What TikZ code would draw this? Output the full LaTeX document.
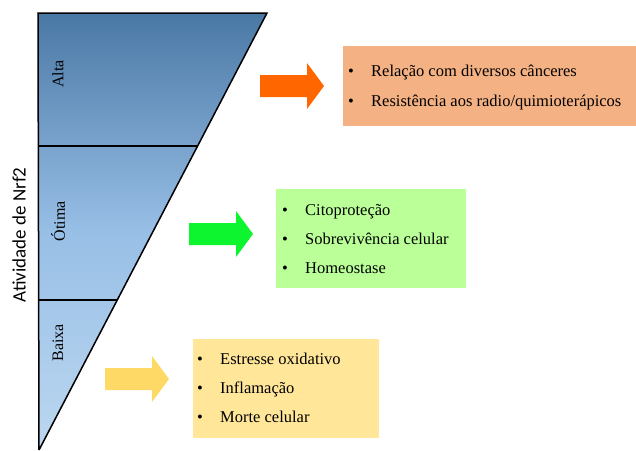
\documentclass[tikz,border=0pt]{standalone}
\usepackage{fontspec}
\setmainfont{Liberation Serif}
\newfontfamily\axisfont{Carlito}
\usetikzlibrary{positioning}

\definecolor{topblue}{HTML}{4A78A5}
\definecolor{midblue}{HTML}{98BFE6}
\definecolor{lowblue}{HTML}{BCD7F0}
\definecolor{arrorange}{HTML}{FF6600}
\definecolor{arrgreen}{HTML}{0CF52E}
\definecolor{arryellow}{HTML}{FFD966}
\definecolor{boxorange}{HTML}{F4B183}
\definecolor{boxgreen}{HTML}{BAFF98}
\definecolor{boxyellow}{HTML}{FFE699}

\tikzset{
  bigarrow/.pic={
    \fill (0,-11) -- (47,-11) -- (47,-23) -- (64,0) -- (47,23) -- (47,11) -- (0,11) -- cycle;
  },
  listbox/.style={draw=none, anchor=north west, inner sep=0pt},
  item/.style={anchor=west, inner sep=0pt, text height=11pt, text depth=3.5pt,
    font=\fontsize{16.5}{19}\selectfont},
  level/.style={rotate=90, inner sep=0pt, font=\fontsize{16}{19}\selectfont},
}
\newcommand{\itm}[1]{\makebox[23pt][l]{\textbullet}#1}

\begin{document}
\begin{tikzpicture}[x=1pt, y=-1pt]
  \useasboundingbox (0,0) rectangle (636,450);

  % Nrf2 triangle
  \coordinate (tl) at (38,13);
  \coordinate (tr) at (267,13);
  \coordinate (bt) at (39,450);
  \shade[top color=topblue, bottom color=lowblue, middle color=midblue] (tl) -- (tr) -- (bt) -- cycle;
  \draw[line width=1.5pt, line join=miter] (bt) -- (tl) -- (tr) -- (bt);
  \coordinate (m1) at (38,146);
  \coordinate (m2) at (38,300);
  \draw[line width=1.2pt] (m1) -- (198,146);
  \draw[line width=1.2pt] (m2) -- (118,300);

  \node[level] (alta) at (58,74) {Alta};
  \node[level] (otima) at (58,221) {Ótima};
  \node[level] (baixa) at (58,343) {Baixa};
  \node[rotate=90, inner sep=0pt, font=\axisfont\fontsize{19}{22}\selectfont] (eixo) at (19,235) {Atividade de Nrf2};

  % Block arrows
  \pic[arrorange] (setaalta) at (260,86) {bigarrow};
  \pic[arrgreen] (setaotima) at (189,234) {bigarrow};
  \pic[arryellow] (setabaixa) at (105,379) {bigarrow};

  % Boxes
  \node[listbox, fill=boxorange, minimum width=293pt, minimum height=80pt] (caixaalta) at (343,46) {};
  \node[listbox, fill=boxgreen, minimum width=190pt, minimum height=99pt] (caixaotima) at (276,189) {};
  \node[listbox, fill=boxyellow, minimum width=186pt, minimum height=99pt] (caixabaixa) at (193,339) {};

  \node[item] (a1) at (348,73) {\itm{Relação com diversos cânceres}};
  \node[item] (a2) at (348,103) {\itm{Resistência aos radio/quimioterápicos}};

  \node[item] (o1) at (282,212) {\itm{Citoproteção}};
  \node[item] (o2) at (282,241) {\itm{Sobrevivência celular}};
  \node[item] (o3) at (282,270) {\itm{Homeostase}};

  \node[item] (b1) at (197,361) {\itm{Estresse oxidativo}};
  \node[item] (b2) at (197,390) {\itm{Inflamação}};
  \node[item] (b3) at (197,419) {\itm{Morte celular}};

\end{tikzpicture}
\end{document}
